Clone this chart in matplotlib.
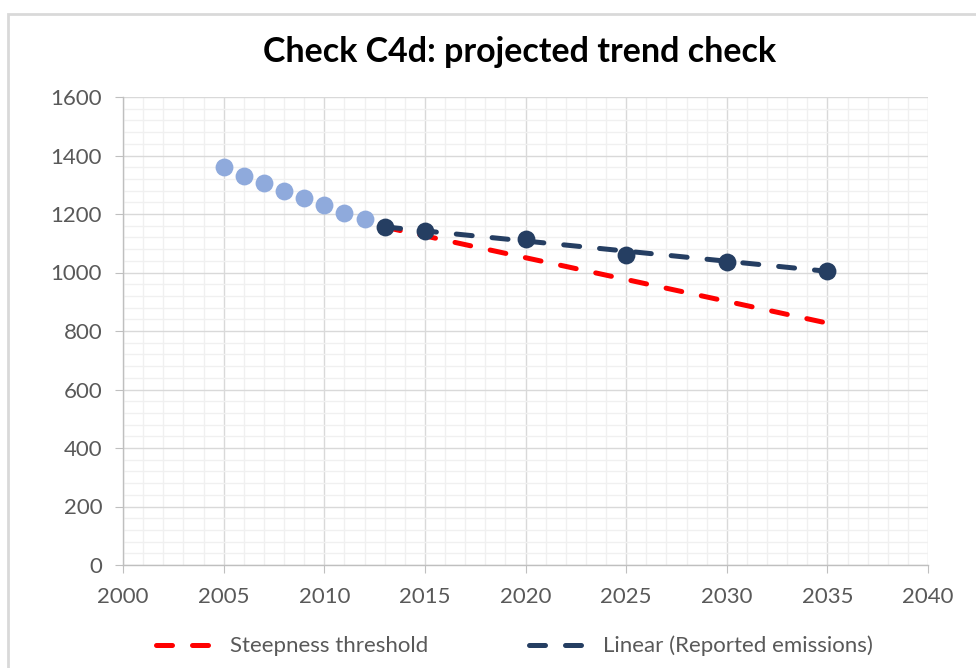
import matplotlib.pyplot as plt
from matplotlib.patches import Rectangle
from matplotlib.ticker import MultipleLocator

plt.rcParams['font.family'] = ['Lato', 'DejaVu Sans']

# historic points (light) and projected points (dark)
hist_years = [2005, 2006, 2007, 2008, 2009, 2010, 2011, 2012]
hist_vals = [1362, 1331, 1305, 1280, 1256, 1232, 1205, 1182]
proj_years = [2013, 2015, 2020, 2025, 2030, 2035]
proj_vals = [1157, 1143, 1113, 1060, 1037, 1006]

# end points of the two lines
steep_years = [2013, 2035]
steep_vals = [1155, 827]
trend_years = [2013, 2035]
trend_vals = [1156, 1004]

light = '#8faadc'
dark = '#253e62'
red = '#ff0000'
grey_txt = '#595959'

fig = plt.figure(figsize=(9.76, 6.68), dpi=100)
ax = fig.add_axes([123/976, 1 - 565/668, (928-123)/976, (565-97)/668])

# chart border like excel
fig.patches.append(Rectangle((8/976, -0.05), 1.1, 1 - 14/668 + 0.05, transform=fig.transFigure,
                             fill=False, edgecolor='#d9d9d9', linewidth=2))

ax.scatter(hist_years, hist_vals, s=165, color=light, zorder=3, linewidths=0)
ax.plot(steep_years, steep_vals, color=red, lw=3.6, linestyle=(0, (3.2, 4.0)),
        dash_capstyle='round', zorder=4, label='Steepness threshold')
ax.scatter(proj_years, proj_vals, s=165, color=dark, zorder=5, linewidths=0)
ax.plot(trend_years, trend_vals, color=dark, lw=3.6, linestyle=(0, (3.2, 4.0)),
        dash_capstyle='round', zorder=6, label='Linear (Reported emissions)')

ax.set_xlim(2000, 2040)
ax.set_ylim(0, 1600)
ax.xaxis.set_major_locator(MultipleLocator(5))
ax.xaxis.set_minor_locator(MultipleLocator(1))
ax.yaxis.set_major_locator(MultipleLocator(200))
ax.yaxis.set_minor_locator(MultipleLocator(40))

ax.grid(which='major', color='#d9d9d9', lw=1)
ax.grid(which='minor', color='#f0f0f0', lw=1)
ax.set_axisbelow(True)

for s in ['top', 'right']:
    ax.spines[s].set_visible(False)
for s in ['left', 'bottom']:
    ax.spines[s].set_color('#bfbfbf')
    ax.spines[s].set_linewidth(1)

ax.tick_params(which='major', length=6, color='#bfbfbf', labelcolor=grey_txt, labelsize=16)
ax.tick_params(which='minor', length=0)
ax.tick_params(axis='x', pad=10)
ax.tick_params(axis='y', pad=9)

fig.text(0.532, 1 - 52/668, 'Check C4d: projected trend check', ha='center', va='center',
         fontsize=24.5, fontweight='bold', color='black')

leg = fig.legend(loc='center', bbox_to_anchor=(0.527, 1 - 646/668), ncol=2, frameon=False,
                 fontsize=16, handlelength=2.6, columnspacing=4.5, handletextpad=0.75)
for t in leg.get_texts():
    t.set_color(grey_txt)

fig.savefig('out.png', dpi=100)
